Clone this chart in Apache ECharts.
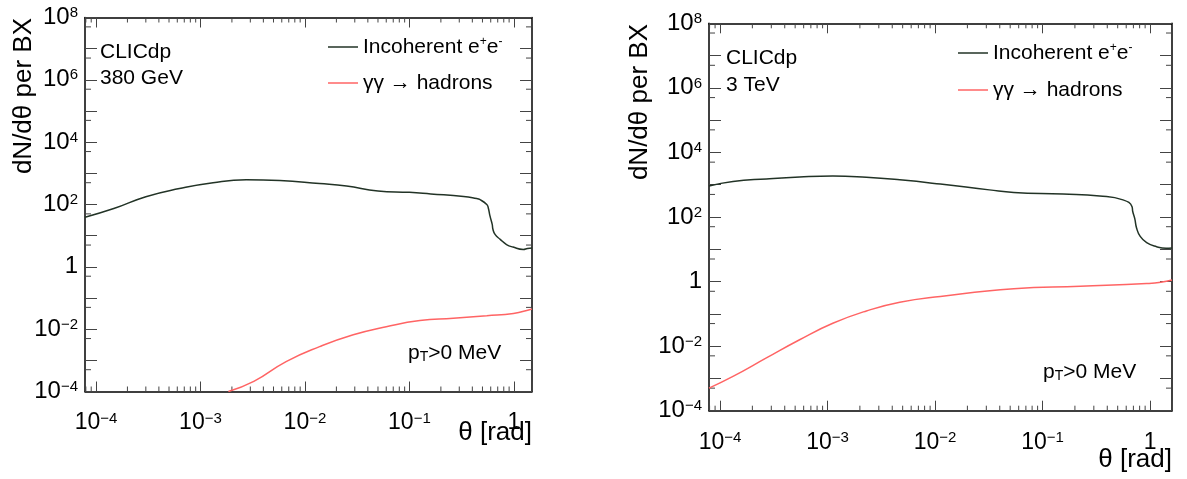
<!DOCTYPE html>
<html>
<head>
<meta charset="utf-8">
<script src="https://cdn.jsdelivr.net/npm/echarts@6.0.0/dist/echarts.min.js"></script>
<style>
  html, body { margin: 0; background: #fff; }
  #chart { width: 1187px; height: 479px; }
</style>
</head>
<body>
<div id="chart"></div>
<script>
// theta [rad] and dN/dtheta per BX
const theta380Incoh = [7.85e-5, 1.48e-4, 3.0e-4, 6.3e-4, 1.32e-3, 2.75e-3, 5.75e-3, 1.38e-2, 2.5e-2, 5.0e-2, 0.1, 0.16, 0.33, 0.44, 0.47, 0.55, 0.568, 0.59, 0.62, 0.63, 0.66, 0.74, 0.85, 0.98, 1.23, 1.35, 1.49]
const dn380Incoh = [39, 74, 178, 324, 501, 617, 589, 468, 389, 272, 245, 219, 182, 155, 145, 100, 79, 43, 23, 16, 11, 7.6, 5.2, 4.3, 3.6, 3.9, 4.0]
const theta380Had = [1.85e-3, 3.24e-3, 6.6e-3, 1.38e-2, 2.9e-2, 6.0e-2, 0.126, 0.263, 0.55, 0.99, 1.41, 1.49]
const dn380Had = [1.0e-4, 2.1e-4, 9.1e-4, 2.75e-3, 6.6e-3, 1.2e-2, 1.9e-2, 2.24e-2, 2.7e-2, 3.2e-2, 4.2e-2, 4.5e-2]

const theta3TeVIncoh = [7.9e-5, 1.32e-4, 2.7e-4, 5.5e-4, 1.12e-3, 2.3e-3, 4.7e-3, 1.12e-2, 3.2e-2, 5.4e-2, 0.155, 0.34, 0.56, 0.68, 0.69, 0.72, 0.75, 0.81, 0.93, 1.15, 1.41, 1.6]
const dn3TeVIncoh = [912, 1259, 1514, 1738, 1862, 1698, 1413, 1047, 692, 575, 513, 447, 339, 209, 148, 91, 45, 25, 16, 12, 10.7, 11]
const theta3TeVHad = [7.9e-5, 1.32e-4, 2.7e-4, 5.5e-4, 1.12e-3, 2.3e-3, 4.7e-3, 1.12e-2, 5.4e-2, 0.224, 0.93, 1.26, 1.6]
const dn3TeVHad = [5.0e-4, 1.15e-3, 4.3e-3, 1.58e-2, 5.1e-2, 0.123, 0.229, 0.347, 0.60, 0.72, 0.87, 0.95, 1.12]

const seriesNames = ['Incoherent e+e-', 'γγ → hadrons']
const xRange = [[7.85e-5, 1.49], [7.9e-5, 1.6]]
const yRange = [1e-4, 1e8]
const minorMantissas = [2, 3, 4, 5, 6, 7, 8, 9]
const decades = [-5, -4, -3, -2, -1, 0]
const yDecades = [-4, -3, -2, -1, 0, 1, 2, 3, 4, 5, 6, 7]

const FONT = '"Liberation Sans", Arial, Helvetica, sans-serif'
const BLACK = '#223326'
const RED = '#ff6464'
const grids = [
  { left: 85, top: 17.5, width: 447, height: 374 },
  { left: 709, top: 23.3, width: 463, height: 387.4 }
]

const zip = (xs, ys) => xs.map((x, i) => [x, ys[i]])

function expLabel(v) {
  const e = Math.log10(v)
  const r = Math.round(e)
  if (Math.abs(e - r) > 0.01) return ''
  if (r === 0) return '1'
  return '10{sup|' + String(r).replace('-', '\u2212') + '}'
}

// minor ticks (2..9 x 10^n on theta, 5 x 10^n on dN/dtheta), drawn on all four sides
function minorTickData(g) {
  const out = []
  const [x0, x1] = xRange[g]
  decades.forEach((d) => minorMantissas.forEach((m) => {
    const v = m * Math.pow(10, d)
    if (v > x0 && v < x1) { out.push([v, yRange[0], 0]); out.push([v, yRange[1], 1]) }
  }))
  yDecades.forEach((d) => {
    const v = 5 * Math.pow(10, d)
    out.push([x0, v, 2]); out.push([x1, v, 3])
  })
  return out
}

function renderTick(params, api) {
  const p = api.coord([api.value(0), api.value(1)])
  const dir = api.value(2)
  const len = dir < 2 ? 5 : 6
  const d = [[0, -len], [0, len], [len, 0], [-len, 0]][dir]
  return {
    type: 'line',
    shape: { x1: p[0], y1: p[1], x2: p[0] + d[0], y2: p[1] + d[1] },
    style: { stroke: '#444', lineWidth: 1 }
  }
}

const supRich = { sup: { fontSize: 15, fontFamily: FONT, color: '#000', verticalAlign: 'top', padding: [0, 0, 6, 0] } }

function xAxisFor(g, top) {
  return {
    type: 'log', gridIndex: g, position: top ? 'top' : 'bottom',
    min: xRange[g][0], max: xRange[g][1],
    axisLine: { lineStyle: { color: '#000', width: 1.5 } },
    axisTick: { inside: true, length: 10, lineStyle: { color: '#444' } },
    splitLine: { show: false },
    axisLabel: top ? { show: false } : {
      fontSize: 23, fontFamily: FONT, color: '#000', margin: 20,
      formatter: expLabel, rich: supRich
    }
  }
}

function yAxisFor(g, right) {
  return {
    type: 'log', gridIndex: g, position: right ? 'right' : 'left',
    min: yRange[0], max: yRange[1], interval: 1,
    axisLine: { lineStyle: { color: '#000', width: 1.5 } },
    axisTick: { inside: true, length: 12, lineStyle: { color: '#444' } },
    splitLine: { show: false },
    axisLabel: right ? { show: false } : {
      fontSize: 24, fontFamily: FONT, color: '#000', margin: 7,
      formatter: (v) => {
        const e = Math.round(Math.log10(v))
        return e % 2 === 0 ? expLabel(v) : ''
      },
      rich: supRich
    }
  }
}

function lineSeries(name, g, data, color) {
  return {
    name, type: 'line', xAxisIndex: g * 2, yAxisIndex: g * 2, data,
    symbol: 'none', smooth: 0.5, clip: true, silent: true,
    lineStyle: { color, width: 1.5 }, itemStyle: { color }
  }
}

function legendFor(left, top, gap) {
  return {
    data: seriesNames, left, top, orient: 'vertical', icon: 'rect',
    itemWidth: 30, itemHeight: 1.5, itemGap: gap,
    textStyle: {
      fontSize: 21, fontFamily: FONT, color: '#000', lineHeight: 22,
      rich: { sup: { fontSize: 12, fontFamily: FONT, color: '#000', verticalAlign: 'top' } }
    },
    formatter: (n) => n === seriesNames[0] ? 'Incoherent e{sup|+}e{sup|-}' : n
  }
}

function text(x, y, str, size, extra) {
  return Object.assign({
    type: 'text', x, y, silent: true,
    style: Object.assign({ text: str, font: size + 'px ' + FONT, fill: '#000', textVerticalAlign: 'middle' }, (extra && extra.style) || {})
  }, extra && extra.rotation ? { rotation: extra.rotation } : {})
}

const ptStyle = {
  rich: {
    b: { fontSize: 21, fontFamily: FONT, color: '#000' },
    s: { fontSize: 14, fontFamily: FONT, color: '#000', verticalAlign: 'bottom', padding: [8, 0, 0, 0] }
  }
}

const chart = echarts.init(document.getElementById('chart'))
chart.setOption({
  animation: false,
  backgroundColor: '#fff',
  grid: grids,
  xAxis: [xAxisFor(0, false), xAxisFor(0, true), xAxisFor(1, false), xAxisFor(1, true)],
  yAxis: [yAxisFor(0, false), yAxisFor(0, true), yAxisFor(1, false), yAxisFor(1, true)],
  legend: [legendFor(323, 31, 14), legendFor(953, 37, 15)],
  series: [
    lineSeries(seriesNames[0], 0, zip(theta380Incoh, dn380Incoh), BLACK),
    lineSeries(seriesNames[1], 0, zip(theta380Had, dn380Had), RED),
    lineSeries(seriesNames[0], 1, zip(theta3TeVIncoh, dn3TeVIncoh), BLACK),
    lineSeries(seriesNames[1], 1, zip(theta3TeVHad, dn3TeVHad), RED),
    { type: 'custom', xAxisIndex: 0, yAxisIndex: 0, data: minorTickData(0), renderItem: renderTick, silent: true, clip: false },
    { type: 'custom', xAxisIndex: 2, yAxisIndex: 2, data: minorTickData(1), renderItem: renderTick, silent: true, clip: false }
  ],
  graphic: [
    text(24, 18, 'dN/dθ per BX', 26, { rotation: Math.PI / 2, style: { textAlign: 'right' } }),
    text(640, 24, 'dN/dθ per BX', 26, { rotation: Math.PI / 2, style: { textAlign: 'right' } }),
    text(100, 52, 'CLICdp', 21),
    text(100, 78, '380 GeV', 21),
    text(726, 58, 'CLICdp', 21),
    text(726, 85, '3 TeV', 21),
    text(408, 353, '{b|p}{s|T}{b|>0 MeV}', 21, { style: ptStyle }),
    text(1043, 372, '{b|p}{s|T}{b|>0 MeV}', 21, { style: ptStyle }),
    text(532, 433, 'θ [rad]', 26, { style: { textAlign: 'right' } }),
    text(1172, 460, 'θ [rad]', 26, { style: { textAlign: 'right' } })
  ]
})
</script>
</body>
</html>
